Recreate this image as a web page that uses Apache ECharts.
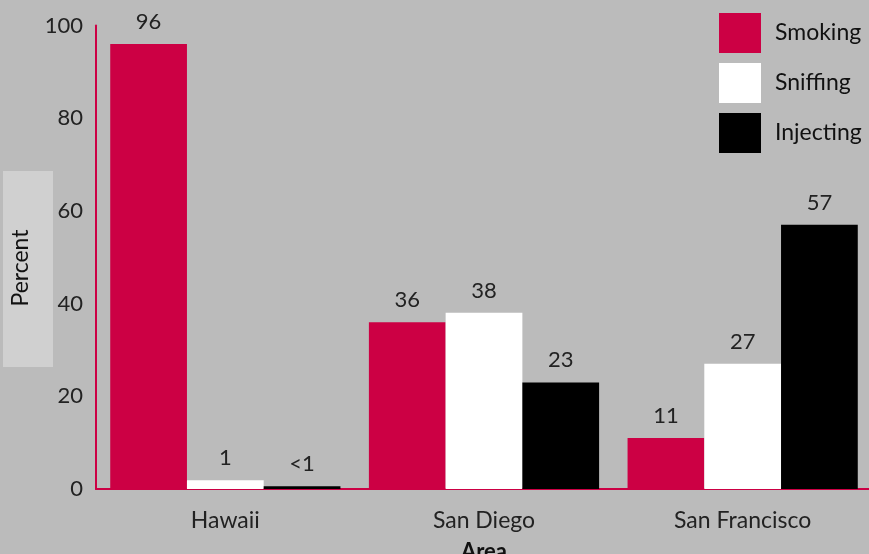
<!DOCTYPE html>
<html><head><meta charset="utf-8">
<script src="https://cdn.jsdelivr.net/npm/echarts@6/dist/echarts.min.js"></script>
<style>html,body{margin:0;padding:0;background:#bbbbbb}#c{width:869px;height:554px}</style>
</head><body><div id="c"></div>
<script>
const categories = ["Hawaii", "San Diego", "San Francisco"];
const smoking = [96, 36, 11];
const sniffing = [1.9, 38, 27];
const injecting = [0.6, 23, 57];
const smokingLabels = ["96", "36", "11"];
const sniffingLabels = ["1", "38", "27"];
const injectingLabels = ["<1", "23", "57"];
const yTicks = [0, 20, 40, 60, 80, 100];

const FONT = "Lato, 'Noto Sans', sans-serif";
const chart = echarts.init(document.getElementById('c'));
function mkLabel(arr){
  return {show:true, position:'top', distance:11, fontSize:22, color:'#222', fontFamily:FONT,
    formatter: p => arr[p.dataIndex]};
}
chart.setOption({
  backgroundColor:'#bbbbbb',
  animation:false,
  textStyle:{fontFamily:FONT},
  grid:{left:96, top:25.5, width:776, height:463.5, containLabel:false, outerBoundsMode:'none'},
  legend:{
    orient:'vertical', left:714, top:8, itemWidth:42, itemHeight:40, itemGap:10,
    textStyle:{fontSize:23, color:'#111', fontFamily:FONT, padding:[0,0,0,9]},
    icon:'rect', data:['Smoking','Sniffing','Injecting']
  },
  xAxis:{
    type:'category', data:categories,
    axisLine:{lineStyle:{color:'#cc0044', width:2}},
    axisTick:{show:false},
    axisLabel:{fontSize:23, color:'#222', margin:20, fontFamily:FONT},
    name:'Area', nameLocation:'middle', nameGap:52,
    nameTextStyle:{fontSize:22, fontWeight:'bold', color:'#111', fontFamily:FONT}
  },
  yAxis:{
    type:'value', min:yTicks[0], max:yTicks[yTicks.length-1], interval:20,
    axisLine:{show:true, lineStyle:{color:'#cc0044', width:2}},
    axisTick:{show:false},
    splitLine:{show:false},
    axisLabel:{fontSize:22, color:'#222', margin:13, fontFamily:FONT}
  },
  graphic:[
    {type:'rect', left:3, top:171, shape:{width:50, height:196}, style:{fill:'#d0d0d0'}, z:-1},
    {type:'text', x:21, y:268, rotation:Math.PI/2,
     style:{text:'Percent', fontSize:23, fill:'#111', fontFamily:FONT, align:'center', verticalAlign:'middle'}}
  ],
  series:[
    {name:'Smoking', type:'bar', data:smoking, barGap:'0%', barCategoryGap:'11%',
     itemStyle:{color:'#cc0044'}, label:mkLabel(smokingLabels)},
    {name:'Sniffing', type:'bar', data:sniffing,
     itemStyle:{color:'#ffffff'}, label:mkLabel(sniffingLabels)},
    {name:'Injecting', type:'bar', data:injecting,
     itemStyle:{color:'#000000'}, label:mkLabel(injectingLabels)}
  ]
});
</script></body></html>
